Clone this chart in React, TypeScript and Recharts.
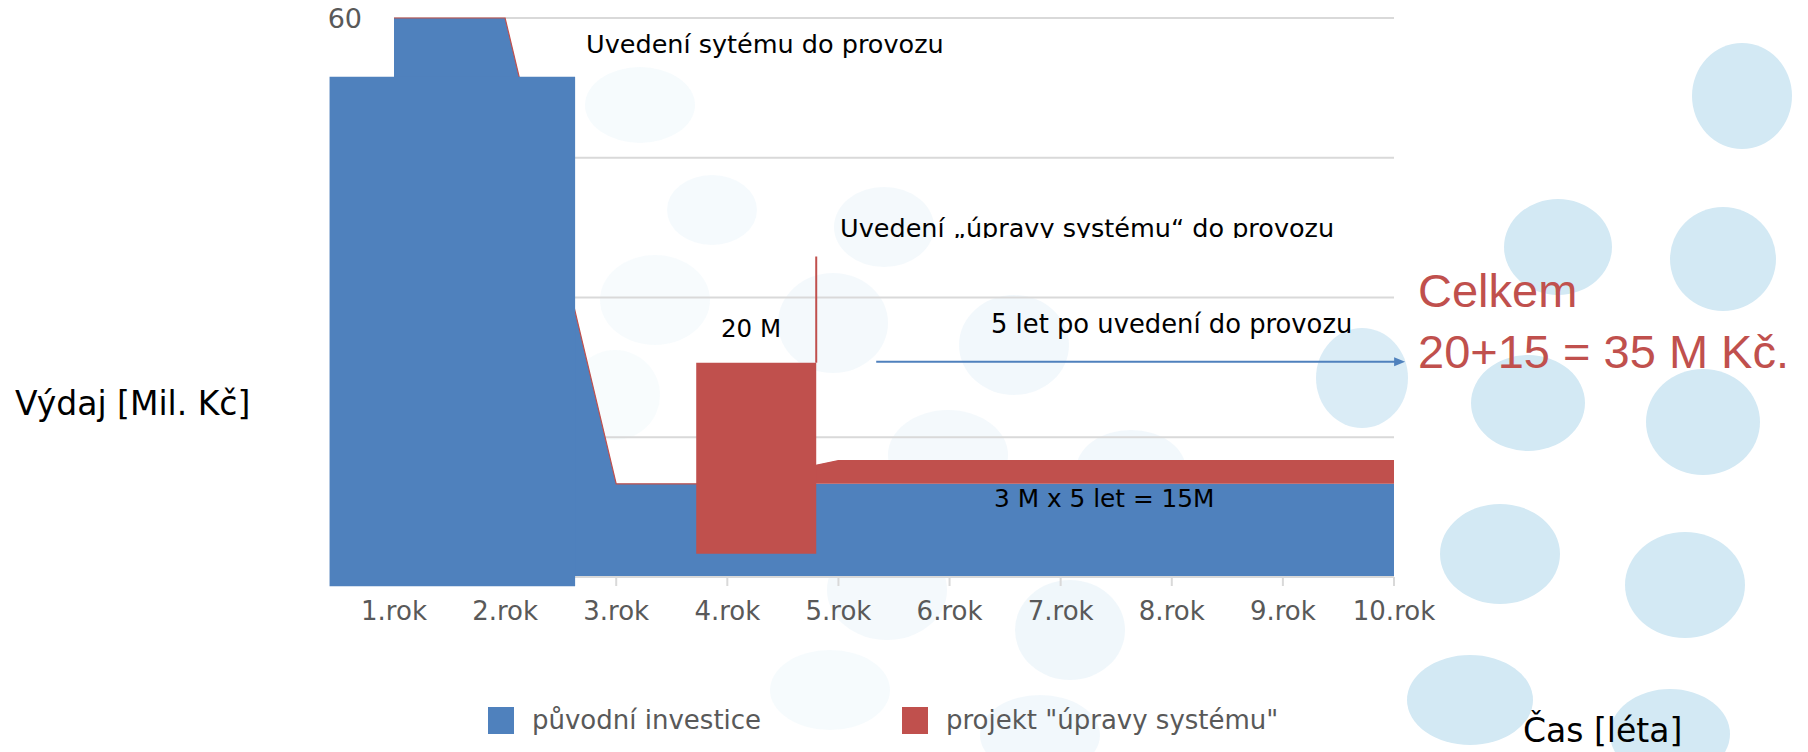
import React from "react";
import {
  Area,
  AreaChart,
  CartesianGrid,
  Legend,
  ReferenceArea,
  ReferenceLine,
  XAxis,
  YAxis,
} from "recharts";

const years = [1, 2, 3, 4, 5, 6, 7, 8, 9, 10];
const yearLabels = ["1.rok", "2.rok", "3.rok", "4.rok", "5.rok", "6.rok", "7.rok", "8.rok", "9.rok", "10.rok"];
const puvodniInvestice = [60, 60, 10, 10, 10, 10, 10, 10, 10, 10];
const projektUpravy = [0, 0, 0, 0, 2.5, 2.5, 2.5, 2.5, 2.5, 2.5];
const yTicks = [0, 15, 30, 45, 60];

// shapes laid over the chart on the slide, in data units (x = rok, y = Mil. Kč)
const startBlock = { x1: 0.42, x2: 2.63, y1: -1, y2: 53.7 };
const projectBlock = { x1: 3.72, x2: 4.8, y1: 2.5, y2: 23 };
const launchLine = { x: 4.8, y1: 23, y2: 34.4 };
const arrowSpan = { x1: 5.34, x2: 10.1, y: 23.1 };

const BLUE = "#4f81bd";
const RED = "#c0504d";
const FONT = "'DejaVu Sans', Verdana, sans-serif";

const series = [
  { key: "puvodni", name: "původní investice", color: BLUE },
  { key: "upravy", name: 'projekt "úpravy systému"', color: RED },
];

const data = years.map((year, i) => ({
  year,
  puvodni: puvodniInvestice[i],
  upravy: projektUpravy[i],
}));

// slide background bubbles: cx, cy, rx, ry, opacity
const bubbles = [
  [1742, 96, 50, 53, 1],
  [1558, 247, 54, 48, 1],
  [1723, 259, 53, 52, 1],
  [1528, 403, 57, 48, 1],
  [1703, 422, 57, 53, 1],
  [1500, 554, 60, 50, 1],
  [1685, 585, 60, 53, 1],
  [1470, 700, 63, 45, 1],
  [1670, 734, 60, 45, 1],
  [1362, 378, 46, 50, 0.85],
  [640, 105, 55, 38, 0.2],
  [712, 210, 45, 35, 0.22],
  [884, 227, 50, 40, 0.25],
  [655, 300, 55, 45, 0.18],
  [833, 323, 55, 50, 0.25],
  [1014, 345, 55, 50, 0.3],
  [615, 395, 45, 45, 0.15],
  [948, 455, 60, 45, 0.25],
  [1131, 470, 55, 40, 0.3],
  [887, 590, 60, 50, 0.25],
  [1070, 630, 55, 50, 0.35],
  [830, 690, 60, 40, 0.2],
  [1040, 735, 60, 40, 0.3],
];

const renderYTick = (props: any) => {
  const { x, y, payload } = props;
  if (payload.value !== 60) return <g />;
  return (
    <text x={x} y={y} dy="0.355em" textAnchor="end" fill="#595959" fontSize={27} fontFamily={FONT}>
      {payload.value}
    </text>
  );
};

const ArrowShape = (props: any) => {
  const { x1, y1, x2, y2 } = props;
  return (
    <g>
      <line x1={x1} y1={y1} x2={x2 - 8} y2={y2} stroke={BLUE} strokeWidth={2} />
      <polygon points={`${x2},${y2} ${x2 - 11},${y2 - 4.5} ${x2 - 11},${y2 + 4.5}`} fill={BLUE} />
    </g>
  );
};

const renderLegend = () => (
  <div style={{ display: "flex", fontFamily: FONT, fontSize: 26, color: "#595959" }}>
    {series.map((s) => (
      <div key={s.key} style={{ display: "flex", alignItems: "center", width: 414, height: 28 }}>
        <span style={{ width: 26, height: 27, background: s.color, marginRight: 18, flex: "none" }} />
        <span style={{ lineHeight: "28px", whiteSpace: "nowrap" }}>{s.name}</span>
      </div>
    ))}
  </div>
);

export default function App() {
  return (
    <div style={{ position: "absolute", left: 0, top: 0, width: 1808, height: 752, background: "#fff", overflow: "hidden" }}>
      <svg width={1808} height={752} style={{ position: "absolute", left: 0, top: 0 }}>
        {bubbles.map(([cx, cy, rx, ry, op], i) => (
          <ellipse key={i} cx={cx} cy={cy} rx={rx} ry={ry} fill="#d3e9f4" opacity={op} />
        ))}
      </svg>

      <div style={{ position: "absolute", left: 0, top: 0 }}>
        <AreaChart width={1808} height={752} data={data} margin={{ top: 18, right: 414, bottom: 135, left: 334 }}>
          <CartesianGrid vertical={false} stroke="#d9d9d9" strokeWidth={2} />
          <XAxis
            dataKey="year"
            type="number"
            domain={[1, 10]}
            ticks={years}
            interval={0}
            tickFormatter={(v: number) => yearLabels[v - 1]}
            height={40}
            axisLine={{ stroke: "#d9d9d9", strokeWidth: 2 }}
            tickLine={{ stroke: "#d9d9d9", strokeWidth: 2 }}
            tickSize={9}
            tickMargin={16}
            tick={{ fill: "#595959", fontSize: 26, fontFamily: FONT }}
          />
          <YAxis
            domain={[0, 60]}
            ticks={yTicks}
            width={60}
            axisLine={false}
            tickLine={false}
            tickSize={0}
            tickMargin={32}
            tick={renderYTick}
          />
          <Area
            type="linear"
            dataKey="puvodni"
            name={series[0].name}
            stackId="1"
            stroke="none"
            fill={BLUE}
            fillOpacity={1}
            dot={false}
            activeDot={false}
            isAnimationActive={false}
          />
          <Area
            type="linear"
            dataKey="upravy"
            name={series[1].name}
            stackId="1"
            stroke={RED}
            strokeWidth={1.2}
            fill={RED}
            fillOpacity={1}
            dot={false}
            activeDot={false}
            isAnimationActive={false}
          />
          <ReferenceArea
            x1={startBlock.x1}
            x2={startBlock.x2}
            y1={startBlock.y1}
            y2={startBlock.y2}
            fill={BLUE}
            fillOpacity={1}
            stroke="none"
            ifOverflow="visible"
            zIndex={600}
          />
          <ReferenceArea
            x1={projectBlock.x1}
            x2={projectBlock.x2}
            y1={projectBlock.y1}
            y2={projectBlock.y2}
            fill={RED}
            fillOpacity={1}
            stroke="none"
            ifOverflow="visible"
            zIndex={600}
          />
          <ReferenceLine
            segment={[
              { x: launchLine.x, y: launchLine.y1 },
              { x: launchLine.x, y: launchLine.y2 },
            ]}
            stroke={RED}
            strokeWidth={2}
            ifOverflow="visible"
            zIndex={650}
          />
          <ReferenceLine
            segment={[
              { x: arrowSpan.x1, y: arrowSpan.y },
              { x: arrowSpan.x2, y: arrowSpan.y },
            ]}
            shape={ArrowShape}
            ifOverflow="visible"
            zIndex={650}
          />
          <Legend
            layout="horizontal"
            verticalAlign="middle"
            align="center"
            content={renderLegend}
            wrapperStyle={{ left: 488, top: 706, width: 900, height: 30 }}
          />
        </AreaChart>
      </div>

      <svg width={1808} height={752} style={{ position: "absolute", left: 0, top: 0, pointerEvents: "none" }}>
        <defs>
          <clipPath id="cutTitle">
            <rect x={800} y={190} width={600} height={48} />
          </clipPath>
        </defs>
        <g fontFamily={FONT} fill="#000">
          <text x={586} y={53} fontSize={25.5}>Uvedení sytému do provozu</text>
          <text x={840} y={237} fontSize={25.5} clipPath="url(#cutTitle)">
            Uvedení „úpravy systému“ do provozu
          </text>
          <text x={721} y={337} fontSize={24.5}>20 M</text>
          <text x={991} y={333} fontSize={25.8}>5 let po uvedení do provozu</text>
          <text x={994} y={507} fontSize={24.8}>3 M x 5 let = 15M</text>
          <text x={15} y={415} fontSize={33}>Výdaj [Mil. Kč]</text>
          <text x={1523} y={742} fontSize={33}>Čas [léta]</text>
        </g>
        <g fontFamily="'Liberation Sans', Arial, sans-serif" fill={RED} fontSize={47}>
          <text x={1418} y={307}>Celkem</text>
          <text x={1418} y={368}>20+15 = 35 M Kč.</text>
        </g>
      </svg>
    </div>
  );
}
